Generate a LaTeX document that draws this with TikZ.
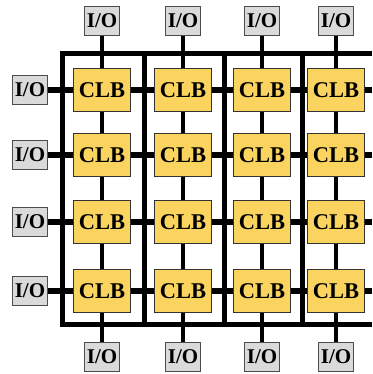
\documentclass[tikz,border=0pt]{standalone}
\usepackage{fontspec}
\setmainfont{Liberation Serif}
\usetikzlibrary{backgrounds}

\definecolor{clbyellow}{RGB}{250,212,94}
\definecolor{iogray}{RGB}{218,218,218}

\tikzset{
  clb/.style={draw=black!80, line width=1pt, fill=clbyellow,
    minimum width=57pt, minimum height=43pt, inner sep=0pt,
    font=\fontsize{22.5}{22.5}\selectfont\bfseries},
  io/.style={draw=black!70, line width=1.3pt, fill=iogray,
    minimum width=35pt, minimum height=29pt, inner sep=0pt,
    font=\fontsize{21}{21}\selectfont\bfseries},
  hwire/.style={line width=5.5pt},
  vwire/.style={line width=3.5pt},
  frame/.style={line width=5pt}
}

\begin{document}
\begin{tikzpicture}[x=1pt, y=-1pt]
  \useasboundingbox (0,0) rectangle (372,374);

  % logic blocks and pads
  \foreach \x [count=\c] in {102,183,262,336} {
    \foreach \y [count=\r] in {90,155,222,291}
      \node (clb\r\c) [clb] at (\x,\y) {CLB};
    \node (top\c) [io] at (\x,21) {I/O};
    \node (bot\c) [io] at (\x,357) {I/O};
  }
  \foreach \y [count=\r] in {90,155,222,291} {
    \node (left\r) [io] at (30,\y) {I/O};
    \coordinate (edge\r) at (372,\y);
  }

  \begin{scope}[on background layer]
    % routing channels
    \draw [frame] (372,54) -| (62,324) -- (372,324);
    \foreach \x in {144,224,302}
      \draw [frame] (\x,54) -- (\x,324);

    \foreach \r in {1,...,4}
      \draw [hwire] (left\r) -- (clb\r1) -- (clb\r2) -- (clb\r3) -- (clb\r4) -- (edge\r);
    \foreach \c in {1,...,4}
      \draw [vwire] (top\c) -- (clb1\c) -- (clb2\c) -- (clb3\c) -- (clb4\c) -- (bot\c);
  \end{scope}
\end{tikzpicture}
\end{document}
